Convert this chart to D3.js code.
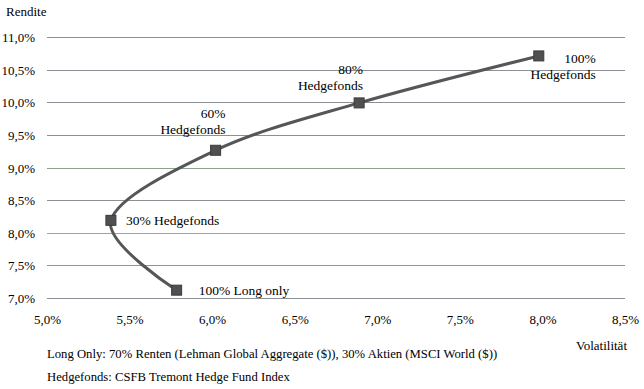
<!DOCTYPE html>
<html>
<head>
<meta charset="utf-8">
<script src="https://cdn.jsdelivr.net/npm/d3@7"></script>
<style>
  body { margin: 0; background: #fff; }
</style>
</head>
<body>
<div id="chart"></div>
<script>
// Daten: Volatilität / Rendite je Mischung
const names = ["100% Long only", "30% Hedgefonds", "60%|Hedgefonds", "80%|Hedgefonds", "100%|Hedgefonds"];
const volatility = [5.785, 5.387, 6.021, 6.89, 7.978];
const returns = [7.12, 8.19, 9.264, 9.99, 10.71];
const xTicks = [5.0, 5.5, 6.0, 6.5, 7.0, 7.5, 8.0, 8.5];
const yTicks = [7.0, 7.5, 8.0, 8.5, 9.0, 9.5, 10.0, 10.5, 11.0];
const notes = [
  "Long Only: 70% Renten (Lehman Global Aggregate ($)), 30% Aktien (MSCI World ($))",
  "Hedgefonds: CSFB Tremont Hedge Fund Index"
];

const FONT = "Liberation Serif";
const W = 644, H = 389;
const margin = { top: 37, right: 19, bottom: 91, left: 47 };
const width = W - margin.left - margin.right,
  height = H - margin.top - margin.bottom;

const root = d3.select("#chart").append("svg").attr("width", W).attr("height", H);
const svg = root.append("g").attr("transform", "translate(" + margin.left + "," + margin.top + ")");

const x = d3.scaleLinear().domain([5.0, 8.5]).range([0, width]);
const y = d3.scaleLinear().domain([7.0, 11.0]).range([height, 0]);
const fmt = (v) => d3.format(".1f")(v).replace(".", ",") + "%";

// gitternetz
const gridColor = (d) => (d === 8.0 ? "#a4ae58" : d === 9.0 ? "#8fa08e" : d === 7.5 ? "#95987a" : "#8d8f96");
svg.selectAll(".grid")
  .data(yTicks)
  .enter()
  .append("line")
  .attr("x1", 0)
  .attr("x2", width)
  .attr("y1", (d) => Math.round(y(d)) + 0.5)
  .attr("y2", (d) => Math.round(y(d)) + 0.5)
  .attr("stroke", gridColor)
  .attr("stroke-width", 1);

// y-achse
const yAxis = svg.append("g").attr("transform", "translate(-9,0)")
  .call(d3.axisLeft(y).tickValues(yTicks).tickFormat(fmt).tickSize(0));
yAxis.attr("font-family", FONT).attr("font-size", 13);
yAxis.select(".domain").remove();
yAxis.selectAll("text").attr("dy", "0.35em").attr("fill", "#000");

// x-achse
const xAxis = svg.append("g").attr("transform", "translate(0," + (height + 14) + ")")
  .call(d3.axisBottom(x).tickValues(xTicks).tickFormat(fmt).tickSize(0));
xAxis.attr("font-family", FONT).attr("font-size", 13);
xAxis.select(".domain").remove();
xAxis.selectAll("text").attr("fill", "#000");

// linie
const pts = volatility.map((v, i) => [x(v), y(returns[i])]);
svg.append("path")
  .datum(pts)
  .attr("fill", "none")
  .attr("stroke", "#565656")
  .attr("stroke-width", 3)
  .attr("d", d3.line().curve(d3.curveCatmullRom.alpha(0)));

// marker
svg.selectAll(".marker")
  .data(pts)
  .enter()
  .append("rect")
  .attr("x", (d) => d[0] - 5)
  .attr("y", (d) => d[1] - 5)
  .attr("width", 10)
  .attr("height", 10)
  .attr("fill", "#505050")
  .attr("stroke", "#3a3a3a")
  .attr("stroke-width", 1);

// beschriftungen (position relativ zum punkt)
const place = [
  { dx: 22, dy: 0, anchor: "start" },
  { dx: 15, dy: 0, anchor: "start" },
  { dx: 10, dy: -37, anchor: "end" },
  { dx: 4, dy: -34, anchor: "end" },
  { dx: 57, dy: 2, anchor: "end" }
];
names.forEach((n, i) => {
  const t = svg.append("text")
    .attr("x", pts[i][0] + place[i].dx)
    .attr("y", pts[i][1] + place[i].dy)
    .attr("text-anchor", place[i].anchor)
    .attr("font-family", FONT)
    .attr("font-size", 13.5);
  n.split("|").forEach((line, j) => {
    t.append("tspan")
      .attr("x", pts[i][0] + place[i].dx)
      .attr("dy", j === 0 ? "0.35em" : "16.5")
      .text(line);
  });
});

// titel
root.append("text").attr("x", 6).attr("y", 16)
  .attr("font-family", FONT).attr("font-size", 13).text("Rendite");
root.append("text").attr("x", 627).attr("y", 350).attr("text-anchor", "end")
  .attr("font-family", FONT).attr("font-size", 13).text("Volatilität");

root.selectAll(".note")
  .data(notes)
  .enter()
  .append("text")
  .attr("x", 47)
  .attr("y", (d, i) => 358 + i * 23)
  .attr("font-family", FONT)
  .attr("font-size", 12.7)
  .text((d) => d);
</script>
</body>
</html>
